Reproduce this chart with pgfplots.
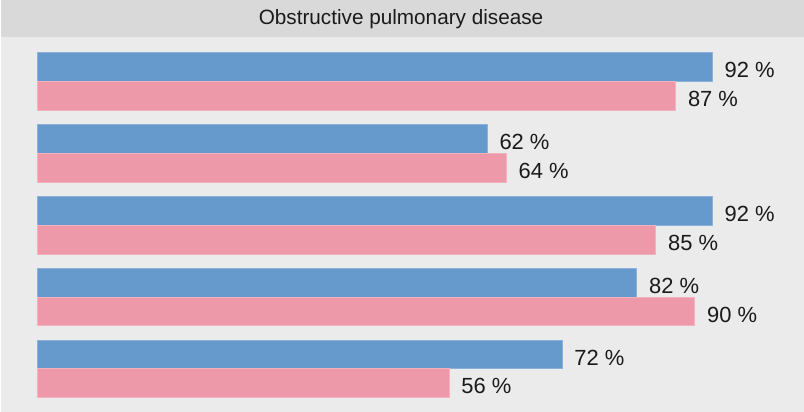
\documentclass[border=0pt]{standalone}
\usepackage{fontspec}
\setmainfont{Liberation Sans}
\usepackage{pgfplots}
\usepackage{pgfplotstable}
\pgfplotsset{compat=1.18}
\definecolor{bgcol}{HTML}{EBEBEB}
\definecolor{titlecol}{HTML}{D9D9D9}
\definecolor{barblue}{HTML}{6699CC}
\definecolor{barpink}{HTML}{EE99AA}
\definecolor{txtcol}{HTML}{1A1A1A}

% y = pixel row of bar centre, x = percent, lab = printed label
\pgfplotstableread{
y x lab
67.2 92.0 92
139.0 61.3 62
210.8 92.0 92
282.6 81.7 82
354.4 71.5 72
}\blueseries
\pgfplotstableread{
y x lab
96.0 87.0 87
167.8 63.9 64
239.6 84.3 85
311.4 89.6 90
383.2 56.1 56
}\pinkseries

\begin{document}
\begin{tikzpicture}
\begin{axis}[
  scale only axis,
  width=402bp, height=206bp,
  xmin=-5.112, xmax=104.5,
  ymin=0, ymax=412,
  y dir=reverse,
  axis lines=none,
  clip=false,
  axis background/.style={fill=bgcol},
  xbar, bar shift=0pt, bar width=28.8,
  point meta=explicit symbolic,
  nodes near coords={\pgfplotspointmeta~\%},
  nodes near coords style={anchor=west, inner sep=0pt, xshift=6bp, yshift=-1.6bp,
    font=\fontsize{11}{13}\selectfont, text=txtcol},
]
\fill[titlecol] (axis cs:-5.112,0) rectangle (axis cs:104.5,37.5);
\fill[white] (axis cs:-5.112,0) rectangle (axis cs:-5.0,412);
\node[font=\fontsize{10.4}{12}\selectfont, text=txtcol] at (axis cs:49.56,19.5) {Obstructive pulmonary disease};
\addplot[fill=barblue, draw=barblue!75!white, line width=0.4bp] table[x=x, y=y, meta=lab] {\blueseries};
\addplot[fill=barpink, draw=barpink!75!white, line width=0.4bp] table[x=x, y=y, meta=lab] {\pinkseries};
\end{axis}
\end{tikzpicture}
\end{document}
